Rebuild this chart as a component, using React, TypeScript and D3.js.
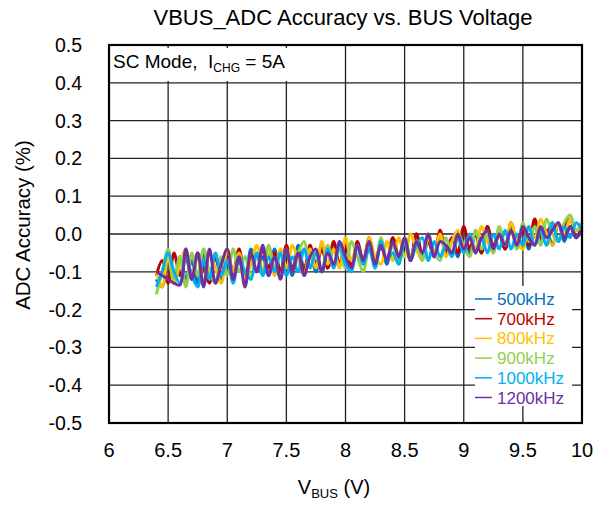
import React from "react";
import * as d3 from "d3";

const voltage = [
  6.4, 6.45, 6.5, 6.55, 6.6, 6.65, 6.7, 6.75, 6.8, 6.85,
  6.9, 6.95, 7.0, 7.05, 7.1, 7.15, 7.2, 7.25, 7.3, 7.35,
  7.4, 7.45, 7.5, 7.55, 7.6, 7.65, 7.7, 7.75, 7.8, 7.85,
  7.9, 7.95, 8.0, 8.05, 8.1, 8.15, 8.2, 8.25, 8.3, 8.35,
  8.4, 8.45, 8.5, 8.55, 8.6, 8.65, 8.7, 8.75, 8.8, 8.85,
  8.9, 8.95, 9.0, 9.05, 9.1, 9.15, 9.2, 9.25, 9.3, 9.35,
  9.4, 9.45, 9.5, 9.55, 9.6, 9.65, 9.7, 9.75, 9.8, 9.85,
  9.9, 9.95, 10.0,
];

const s500 = [
  -0.12, -0.14, -0.08, -0.13, -0.06, -0.12, -0.07, -0.13, -0.05, -0.11,
  -0.06, -0.12, -0.05, -0.11, -0.07, -0.12, -0.04, -0.10, -0.06, -0.11,
  -0.04, -0.10, -0.05, -0.11, -0.03, -0.09, -0.05, -0.10, -0.03, -0.09,
  -0.04, -0.08, -0.02, -0.09, -0.03, -0.08, -0.02, -0.07, -0.03, -0.08,
  -0.01, -0.07, -0.02, -0.07, 0.0, -0.06, -0.02, -0.06, 0.0, -0.05,
  -0.01, -0.06, 0.01, -0.05, 0.0, -0.05, 0.02, -0.04, 0.0, -0.04,
  0.02, -0.03, 0.01, -0.04, 0.03, -0.02, 0.01, -0.03, 0.03, -0.02,
  0.02, -0.01, 0.03,
];
const s700 = [
  -0.11, -0.07, -0.13, -0.05, -0.11, -0.06, -0.12, -0.05, -0.09, -0.13,
  -0.06, -0.11, -0.05, -0.10, -0.04, -0.11, -0.06, -0.10, -0.04, -0.09,
  -0.05, -0.10, -0.03, -0.09, -0.05, -0.10, -0.03, -0.08, -0.04, -0.09,
  -0.02, -0.08, -0.03, -0.09, -0.02, -0.07, -0.01, -0.07, -0.03, -0.07,
  -0.01, -0.06, -0.02, -0.07, 0.0, -0.05, -0.02, -0.06, 0.01, -0.05,
  -0.01, -0.05, 0.02, -0.04, 0.0, -0.05, 0.02, -0.03, 0.0, -0.04,
  0.03, -0.02, 0.01, -0.03, 0.04, -0.01, 0.0, 0.03, -0.02, 0.02,
  0.04, -0.01, 0.02,
];
const s800 = [
  -0.10, -0.14, -0.06, -0.13, -0.08, -0.04, -0.11, -0.06, -0.13, -0.05,
  -0.09, -0.13, -0.04, -0.10, -0.05, -0.12, -0.08, -0.03, -0.10, -0.05,
  -0.11, -0.04, -0.09, -0.03, -0.07, -0.11, -0.04, -0.09, -0.02, -0.08,
  -0.04, -0.09, -0.01, -0.07, -0.03, -0.08, -0.01, -0.06, -0.08, -0.02,
  -0.07, -0.01, -0.06, 0.0, -0.04, -0.07, -0.01, -0.05, 0.0, -0.06,
  -0.02, 0.01, -0.05, 0.0, -0.04, 0.02, -0.02, -0.05, 0.01, -0.03,
  0.03, -0.02, -0.04, 0.02, -0.01, 0.04, 0.0, -0.03, 0.03, 0.0,
  0.04, 0.01, 0.02,
];
const s900 = [
  -0.16, -0.10, -0.04, -0.12, -0.06, -0.14, -0.05, -0.11, -0.04, -0.10,
  -0.13, -0.06, -0.11, -0.04, -0.10, -0.06, -0.12, -0.05, -0.10, -0.03,
  -0.09, -0.11, -0.04, -0.10, -0.05, -0.02, -0.09, -0.04, -0.10, -0.03,
  -0.08, -0.04, -0.09, -0.02, -0.06, -0.10, -0.03, -0.08, -0.01, -0.07,
  -0.03, -0.08, -0.01, -0.06, -0.02, -0.07, 0.0, -0.05, -0.07, -0.01,
  -0.05, 0.0, -0.03, -0.06, 0.01, -0.04, 0.0, -0.05, 0.02, -0.03,
  0.01, -0.04, 0.03, -0.02, 0.02, -0.03, 0.04, 0.0, -0.02, 0.03,
  0.05, 0.01, 0.03,
];
const s1000 = [
  -0.14, -0.10, -0.05, -0.10, -0.13, -0.06, -0.11, -0.14, -0.07, -0.12,
  -0.05, -0.11, -0.07, -0.13, -0.06, -0.10, -0.12, -0.05, -0.11, -0.06,
  -0.10, -0.05, -0.11, -0.06, -0.10, -0.04, -0.09, -0.05, -0.10, -0.04,
  -0.09, -0.03, -0.08, -0.10, -0.03, -0.08, -0.04, -0.09, -0.02, -0.07,
  -0.05, -0.08, -0.02, -0.07, -0.03, -0.01, -0.07, -0.02, -0.06, -0.03,
  -0.06, -0.01, -0.05, 0.0, -0.05, -0.01, -0.05, 0.0, -0.04, 0.01,
  -0.04, 0.0, -0.03, 0.02, -0.03, 0.01, -0.03, 0.03, -0.02, 0.02,
  -0.01, 0.03, 0.01,
];
const s1200 = [
  -0.10, -0.11, -0.12, -0.13, -0.135, -0.04, -0.12, -0.05, -0.14, -0.04,
  -0.13, -0.08, -0.04, -0.12, -0.06, -0.14, -0.05, -0.10, -0.03, -0.11,
  -0.06, -0.12, -0.04, -0.10, -0.05, -0.11, -0.06, -0.04, -0.10, -0.05,
  -0.08, -0.02, -0.06, -0.09, -0.03, -0.07, -0.02, -0.08, -0.03, -0.07,
  -0.02, -0.06, -0.01, -0.07, -0.02, -0.05, 0.0, -0.06, -0.02, -0.03,
  -0.05, 0.0, -0.04, -0.01, -0.05, -0.01, 0.01, -0.04, 0.0, -0.03,
  0.01, -0.03, 0.02, -0.01, -0.03, 0.02, -0.01, 0.01, 0.03, -0.01,
  0.02, -0.01, 0.01,
];

const seriesNames = ["500kHz", "700kHz", "800kHz", "900kHz", "1000kHz", "1200kHz"];
const seriesValues = [s500, s700, s800, s900, s1000, s1200];
const seriesColors = ["#0070C0", "#C00000", "#FFC000", "#92D050", "#00B0F0", "#7030A0"];

const xTicks = [6, 6.5, 7, 7.5, 8, 8.5, 9, 9.5, 10];
const yTicks = [-0.5, -0.4, -0.3, -0.2, -0.1, 0.0, 0.1, 0.2, 0.3, 0.4, 0.5];

const W = 601;
const H = 506;
const L = 109, R = 582, T = 45, B = 423;
const FONT = "Arial, 'Liberation Sans', sans-serif";

export default function App() {
  const x = d3.scaleLinear().domain([6, 10]).range([L, R]);
  const y = d3.scaleLinear().domain([-0.5, 0.5]).range([B, T]);
  const line = d3
    .line<number>()
    .x((_, i) => x(voltage[i]))
    .y((d) => y(d))
    .curve(d3.curveCatmullRom.alpha(0.5));

  const legendX = 475;
  const legendY0 = 299;
  const legendDy = 19.7;

  return (
    <svg
      width={W}
      height={H}
      style={{ position: "absolute", left: 0, top: 0, background: "#fff" }}
      fontFamily={FONT}
    >
      <rect x={0} y={0} width={W} height={H} fill="#fff" />
      {xTicks.map((t) => (
        <line key={"gx" + t} x1={x(t)} x2={x(t)} y1={T} y2={B} stroke="#222" strokeWidth={1.3} />
      ))}
      {yTicks.map((t) => (
        <line key={"gy" + t} x1={L} x2={R} y1={y(t)} y2={y(t)} stroke="#222" strokeWidth={1.3} />
      ))}
      <rect x={L + 1} y={48} width={232} height={33} fill="#fff" />
      <text x={113} y={68} fontSize={19} fill="#000">
        SC Mode,{"\u00a0\u00a0"}I
        <tspan fontSize={12} dy={4}>CHG</tspan>
        <tspan dy={-4}> = 5A</tspan>
      </text>
      <rect x={475} y={286} width={97} height={120} fill="#fff" />
      {seriesValues.map((vals, k) => (
        <path
          key={seriesNames[k]}
          d={line(vals) || ""}
          fill="none"
          stroke={seriesColors[k]}
          strokeWidth={3}
          strokeLinejoin="round"
        />
      ))}
      {seriesNames.map((n, k) => (
        <g key={"lg" + n}>
          <line
            x1={legendX}
            x2={legendX + 17}
            y1={legendY0 + k * legendDy}
            y2={legendY0 + k * legendDy}
            stroke={seriesColors[k]}
            strokeWidth={1.5}
          />
          <text x={legendX + 22} y={legendY0 + k * legendDy + 6} fontSize={17} fill={seriesColors[k]}>
            {n}
          </text>
        </g>
      ))}
      <rect x={L} y={T} width={R - L} height={B - T} fill="none" stroke="#000" strokeWidth={2.2} />
      {xTicks.map((t) => (
        <text key={"tx" + t} x={x(t)} y={457} fontSize={20} textAnchor="middle" fill="#000">
          {String(t)}
        </text>
      ))}
      {yTicks.map((t) => (
        <text key={"ty" + t} x={82} y={y(t) + 7} fontSize={19.5} textAnchor="end" fill="#000">
          {t.toFixed(1)}
        </text>
      ))}
      <text x={343} y={25} fontSize={22} textAnchor="middle" fill="#000">
        VBUS_ADC Accuracy vs. BUS Voltage
      </text>
      <text x={334} y={494} fontSize={20} textAnchor="middle" fill="#000">
        V<tspan fontSize={13} dy={4}>BUS</tspan>
        <tspan dy={-4}> (V)</tspan>
      </text>
      <text
        transform={`translate(30,225) rotate(-90)`}
        fontSize={20.5}
        textAnchor="middle"
        fill="#000"
      >
        ADC Accuracy (%)
      </text>
    </svg>
  );
}
